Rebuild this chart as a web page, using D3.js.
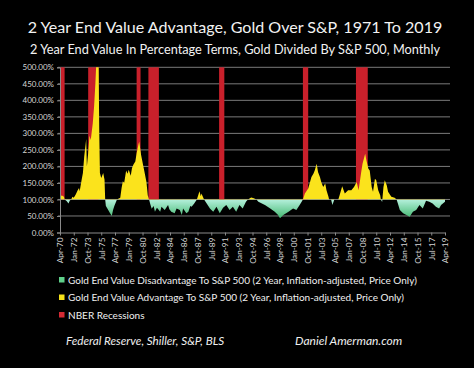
<!DOCTYPE html>
<html>
<head>
<meta charset="utf-8">
<script src="https://cdn.jsdelivr.net/npm/d3@7"></script>
<style>
  body { margin: 0; background: #000; }
  svg { display: block; }
</style>
</head>
<body>
<div id="chart"></div>
<script>
// Data
// =========================
// months and ratio (gold end value / S&P end value, in %) line up one to one
var months = [
  "1970-04", "1970-07", "1970-10", "1970-11", "1971-02", "1971-05", "1971-07", "1971-09", "1971-11",
  "1972-01", "1972-04", "1972-07", "1972-09", "1972-10", "1973-01", "1973-03", "1973-05", "1973-08",
  "1973-09", "1973-11", "1974-01", "1974-03", "1974-06", "1974-08", "1974-10", "1974-12", "1975-03",
  "1975-04", "1975-05", "1975-07", "1975-10", "1975-12", "1976-01", "1976-02", "1976-05", "1976-08",
  "1976-11", "1977-01", "1977-03", "1977-05", "1977-07", "1977-12", "1978-02", "1978-04", "1978-06",
  "1978-09", "1978-11", "1979-01", "1979-04", "1979-06", "1979-08", "1979-11", "1980-01", "1980-04",
  "1980-05", "1980-08", "1980-11", "1981-01", "1981-04", "1981-06", "1981-08", "1981-10", "1981-12",
  "1982-03", "1982-05", "1982-08", "1982-10", "1983-01", "1983-03", "1983-08", "1984-01", "1984-03",
  "1984-06", "1984-11", "1985-02", "1985-07", "1985-10", "1985-12", "1986-05", "1986-08", "1986-11",
  "1987-01", "1987-05", "1987-09", "1988-01", "1988-03", "1988-04", "1988-08", "1988-12", "1989-05",
  "1989-10", "1990-03", "1990-08", "1991-01", "1991-06", "1991-11", "1992-04", "1992-09", "1993-02",
  "1993-07", "1993-12", "1994-03", "1994-08", "1994-12", "1995-04", "1995-07", "1996-05", "1997-01",
  "1997-08", "1998-01", "1998-04", "1998-09", "1999-05", "1999-12", "2000-05", "2000-10", "2001-01",
  "2001-03", "2001-06", "2001-11", "2002-04", "2002-07", "2002-09", "2002-12", "2003-02", "2003-05",
  "2003-07", "2003-10", "2004-01", "2004-03", "2004-06", "2004-07", "2004-10", "2004-12", "2005-03",
  "2005-09", "2005-11", "2006-03", "2006-07", "2006-12", "2007-05", "2007-09", "2008-01", "2008-04",
  "2008-08", "2008-10", "2009-02", "2009-04", "2009-07", "2009-09", "2009-12", "2010-02", "2010-05",
  "2010-07", "2010-10", "2011-01", "2011-02", "2011-04", "2011-06", "2011-08", "2011-11", "2012-01",
  "2012-06", "2012-11", "2013-02", "2013-04", "2013-07", "2013-12", "2014-05", "2014-10", "2015-03",
  "2015-08", "2016-01", "2016-06", "2016-11", "2017-04", "2017-09", "2018-02", "2018-07", "2018-10",
  "2019-04"
];
var ratio = [
  110, 112, 108, 100, 95, 88, 97, 100, 108,
  105, 115, 128, 135, 125, 160, 180, 230, 283,
  200, 240, 293, 280, 330, 380, 450, 540, 510,
  300, 180, 165, 180, 160, 100, 80, 70, 60,
  50, 68, 80, 90, 100, 105, 135, 155, 150,
  188, 178, 190, 172, 195, 205, 215, 240, 268,
  275, 233, 203, 183, 153, 113, 100, 85, 72,
  80, 63, 75, 70, 63, 78, 68, 83, 70,
  63, 58, 73, 68, 53, 73, 58, 63, 80,
  78, 88, 100, 125, 110, 118, 100, 88, 73,
  63, 78, 58, 75, 83, 68, 78, 63, 83,
  73, 93, 100, 106, 104, 100, 93, 83, 73,
  63, 53, 43, 53, 63, 73, 68, 83, 93,
  100, 118, 133, 168, 178, 188, 208, 183, 168,
  153, 138, 148, 128, 108, 100, 100, 83, 100,
  100, 113, 140, 118, 128, 128, 138, 153, 128,
  183, 208, 238, 218, 193, 188, 138, 123, 163,
  158, 128, 113, 100, 92, 138, 158, 143, 123,
  108, 105, 100, 88, 68, 58, 53, 48, 63,
  68, 83, 73, 96, 93, 88, 78, 73, 83,
  93
];

// NBER recessions
var recessionStart = ["1969-12", "1973-11", "1980-01", "1981-07", "1990-07", "2001-03", "2007-12"];
var recessionEnd   = ["1970-11", "1975-03", "1980-07", "1982-11", "1991-03", "2001-11", "2009-06"];

var tickLabels = [
  "Apr-70", "Jan-72", "Oct-73", "Jul-75", "Apr-77", "Jan-79", "Oct-80", "Jul-82", "Apr-84", "Jan-86",
  "Oct-87", "Jul-89", "Apr-91", "Jan-93", "Oct-94", "Jul-96", "Apr-98", "Jan-00", "Oct-01", "Jul-03",
  "Apr-05", "Jan-07", "Oct-08", "Jul-10", "Apr-12", "Jan-14", "Oct-15", "Jul-17", "Apr-19"
];
var yTicks = [0, 50, 100, 150, 200, 250, 300, 350, 400, 450, 500];

var legendLabels = [
  "Gold End Value Disadvantage To S&P 500 (2 Year, Inflation-adjusted, Price Only)",
  "Gold End Value Advantage To S&P 500 (2 Year, Inflation-adjusted, Price Only)",
  "NBER Recessions"
];

// Canvas
// ======
var width = 474, height = 368;
var svg = d3.select("#chart").append("svg")
  .attr("width", width)
  .attr("height", height)
  .style("background", "#000");

var parseMonth = d3.timeParse("%Y-%m");
var parseTick = d3.timeParse("%b-%y");

var data = months.map(function(m, i) {
  return { date: parseMonth(m), value: ratio[i] };
});

// plot box
var plotLeft = 60, plotRight = 445, plotTop = 67.3, plotBottom = 232.5;

var xScale = d3.scaleTime()
  .domain([parseMonth("1970-04"), parseMonth("2019-04")])
  .range([plotLeft, plotRight]);
var yScale = d3.scaleLinear()
  .domain([0, 500])
  .range([plotBottom, plotTop]);

// shrink/grow a text so it spans the given width
function fitWidth(sel, target) {
  var len = sel.node().getComputedTextLength();
  var size = parseFloat(sel.style("font-size"));
  sel.style("font-size", (size * target / len) + "px");
}

// Titles
var title = svg.append("text")
  .attr("x", 235).attr("y", 33)
  .attr("text-anchor", "middle")
  .style("font-family", "Lato, sans-serif")
  .style("font-size", "16px")
  .style("fill", "#f2f2f2")
  .text("2 Year End Value Advantage, Gold Over S&P, 1971 To 2019");
fitWidth(title, 415);
var subtitle = svg.append("text")
  .attr("x", 235).attr("y", 54)
  .attr("text-anchor", "middle")
  .style("font-family", "Lato, sans-serif")
  .style("font-size", "12.6px")
  .style("fill", "#f2f2f2")
  .text("2 Year End Value In Percentage Terms, Gold Divided By S&P 500, Monthly");
fitWidth(subtitle, 410);

// Gridlines
svg.append("g").selectAll("line")
  .data(yTicks.slice(1))
  .enter().append("line")
  .attr("x1", plotLeft - 2).attr("x2", 450)
  .attr("y1", function(d) { return yScale(d); })
  .attr("y2", function(d) { return yScale(d); })
  .style("stroke", "#7a7a7a")
  .style("stroke-width", 1);

// Recession bars (drawn from 100% up)
var domainStart = xScale.domain()[0];
svg.append("g").selectAll("rect")
  .data(recessionStart)
  .enter().append("rect")
  .attr("x", function(d) { return xScale(d3.max([parseMonth(d), domainStart])); })
  .attr("width", function(d, i) {
    return xScale(parseMonth(recessionEnd[i])) - xScale(d3.max([parseMonth(d), domainStart]));
  })
  .attr("y", yScale(500))
  .attr("height", yScale(100) - yScale(500))
  .style("fill", "#c9202b");

// Areas relative to 100%
var defs = svg.append("defs");
defs.append("clipPath").attr("id", "clipUp")
  .append("rect")
  .attr("x", plotLeft).attr("y", yScale(500))
  .attr("width", plotRight - plotLeft + 2).attr("height", yScale(100) - yScale(500));
defs.append("clipPath").attr("id", "clipDown")
  .append("rect")
  .attr("x", plotLeft).attr("y", yScale(100))
  .attr("width", plotRight - plotLeft + 2).attr("height", yScale(0) - yScale(100));

var grad = defs.append("linearGradient")
  .attr("id", "greenGrad")
  .attr("gradientUnits", "userSpaceOnUse")
  .attr("x1", 0).attr("x2", 0)
  .attr("y1", yScale(100)).attr("y2", yScale(40));
grad.append("stop").attr("offset", "0%").attr("stop-color", "#b5f0dc");
grad.append("stop").attr("offset", "100%").attr("stop-color", "#3db56a");

var area = d3.area()
  .x(function(d) { return xScale(d.date); })
  .y0(yScale(100))
  .y1(function(d) { return yScale(d.value); });

svg.append("path")
  .datum(data)
  .attr("clip-path", "url(#clipDown)")
  .attr("d", area)
  .style("fill", "url(#greenGrad)");

svg.append("path")
  .datum(data)
  .attr("clip-path", "url(#clipUp)")
  .attr("d", area)
  .style("fill", "#fbe31c");

// Axes
var yAxis = d3.axisLeft(yScale)
  .tickValues(yTicks)
  .tickSize(3)
  .tickFormat(function(d) { return d.toFixed(2) + "%"; });
var gy = svg.append("g")
  .attr("transform", "translate(" + plotLeft + ",0)")
  .call(yAxis);
gy.select(".domain").style("stroke", "#8a8a8a");
gy.selectAll(".tick line").style("stroke", "#8a8a8a");
gy.selectAll("text")
  .attr("x", -6)
  .style("font-family", "Lato, sans-serif")
  .style("font-size", "8px")
  .style("fill", "#d6d6d6");

var xAxis = d3.axisBottom(xScale)
  .tickValues(tickLabels.map(function(t) { return parseTick(t); }))
  .tickSize(3)
  .tickSizeOuter(0)
  .tickFormat(d3.timeFormat("%b-%y"));
var gx = svg.append("g")
  .attr("transform", "translate(0," + plotBottom + ")")
  .call(xAxis);
gx.select(".domain").style("stroke", "#8a8a8a");
gx.selectAll(".tick line").style("stroke", "#8a8a8a");
gx.selectAll("text")
  .attr("transform", "rotate(-90)")
  .attr("x", -5)
  .attr("y", 0)
  .attr("dy", "0.35em")
  .attr("text-anchor", "end")
  .style("font-family", "Lato, sans-serif")
  .style("font-size", "8.3px")
  .style("fill", "#d6d6d6");

// Legend
var legendColors = ["#5fd08a", "#f5e21a", "#d32a34"];
var legend = svg.append("g").selectAll("g")
  .data(legendLabels)
  .enter().append("g")
  .attr("transform", function(d, i) { return "translate(59," + (280 + i * 17.5) + ")"; });
legend.append("rect")
  .attr("x", 0).attr("y", -3)
  .attr("width", 5.5).attr("height", 5.5)
  .style("fill", function(d, i) { return legendColors[i]; });
legend.append("text")
  .attr("x", 9).attr("y", 0)
  .attr("dy", "0.35em")
  .style("font-family", "Lato, sans-serif")
  .style("font-size", "10px")
  .style("fill", "#f0f0f0")
  .text(function(d) { return d; });

// Sources
svg.append("text")
  .attr("x", 66).attr("y", 345)
  .style("font-family", "Lato, sans-serif")
  .style("font-style", "italic")
  .style("font-size", "11.7px")
  .style("fill", "#f0f0f0")
  .text("Federal Reserve, Shiller, S&P, BLS");
svg.append("text")
  .attr("x", 295).attr("y", 345)
  .style("font-family", "Lato, sans-serif")
  .style("font-style", "italic")
  .style("font-size", "12px")
  .style("fill", "#f0f0f0")
  .text("Daniel Amerman.com");
</script>
</body>
</html>
